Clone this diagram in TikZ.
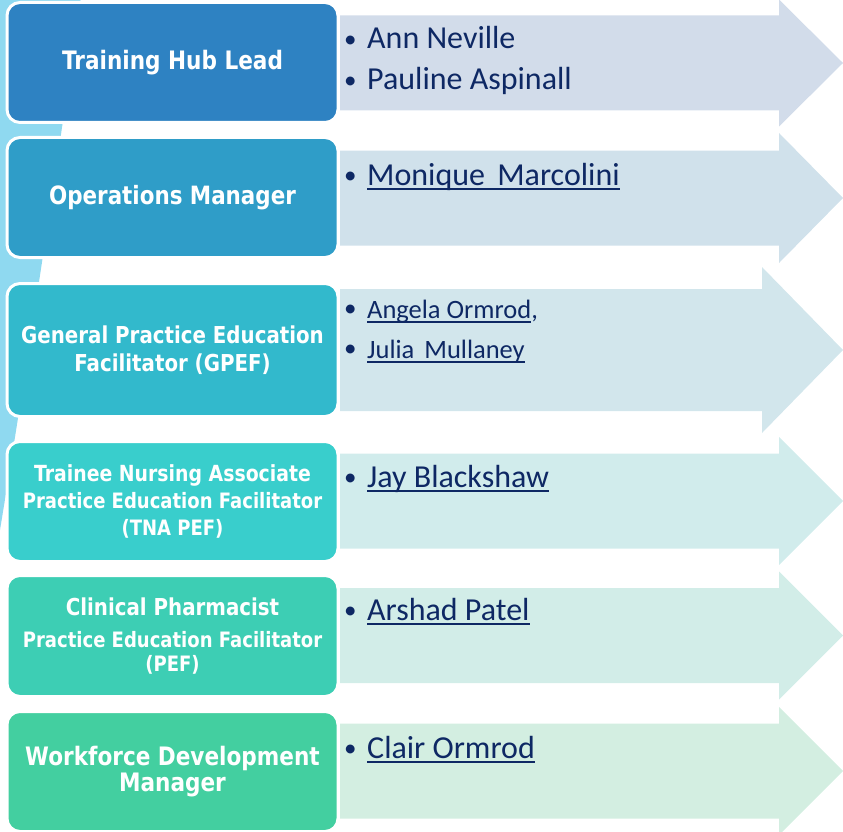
\documentclass[tikz,border=0pt]{standalone}
\usepackage{fontspec}
\setmainfont{Carlito}
\newfontfamily\boxfont[FakeStretch=0.85]{DejaVu Sans}
\usepackage{tikz}
\usetikzlibrary{positioning, calc}

\definecolor{hubA}{HTML}{2E82C2}
\definecolor{hubB}{HTML}{2F9DC8}
\definecolor{hubC}{HTML}{32B9CC}
\definecolor{hubD}{HTML}{39CECC}
\definecolor{hubE}{HTML}{3DCEB4}
\definecolor{hubF}{HTML}{43CFA0}
\definecolor{arrA}{HTML}{D2DCEA}
\definecolor{arrB}{HTML}{D0E1EB}
\definecolor{arrC}{HTML}{D2E6EC}
\definecolor{arrD}{HTML}{D1ECEC}
\definecolor{arrE}{HTML}{D2EDE8}
\definecolor{arrF}{HTML}{D3EEE1}
\definecolor{backarc}{HTML}{8FD9F0}
\definecolor{navy}{HTML}{0E2864}

\newcommand\linkname[1]{\setbox0=\hbox{#1}\rlap{\rule[-4.6pt]{\wd0}{1.8pt}}\box0}
\newcommand\bul{\makebox[23pt][l]{\raisebox{1.5pt}{\fontsize{25}{25}\selectfont\textbullet}}}

\tikzset{
    hubbox/.style = {rounded corners=13pt, draw=white, line width=3pt,
        text=white, minimum width=331pt, align=center, inner sep=0pt,
        outer sep=0pt},
    nameline/.style = {anchor=base west, inner sep=0pt, text=navy,
        font=\fontsize{32}{38}\selectfont},
    smallname/.style = {nameline, font=\fontsize{26.5}{32}\selectfont},
}

\begin{document}
\begin{tikzpicture}[x=1pt, y=-1pt]
            \useasboundingbox (0,0) rectangle (843,832);
            % light band behind the boxes
            \fill[backarc] (0,-10) -- (82,-10) .. controls (56,170) and (28,360) .. (0,530) -- cycle;
            % arrows
            \foreach \cy/\bh/\hh/\hx/\col in {63/47.5/63.5/779/arrA, 198/47.5/65/779/arrB,
                350/61/83/762/arrC, 501/47.5/64/779/arrD, 635.5/47.5/64/779/arrE, 771/47.5/64/779/arrF}
                \fill[\col] (340,\cy-\bh) -- (\hx,\cy-\bh) -- (\hx,\cy-\hh) -- (843,\cy)
                    -- (\hx,\cy+\hh) -- (\hx,\cy+\bh) -- (340,\cy+\bh) -- cycle;
            % role boxes
            \node (lead) [hubbox, fill=hubA, minimum height=120pt,
                font=\boxfont\bfseries\fontsize{25.4}{30}\selectfont] at (172.5,62.5) {Training Hub Lead};
            \node (ops) [hubbox, fill=hubB, minimum height=120pt,
                font=\boxfont\bfseries\fontsize{25.2}{30}\selectfont] at (172.5,197.5) {Operations Manager};
            \node (gpef) [hubbox, fill=hubC, minimum height=133pt,
                font=\boxfont\bfseries\fontsize{23.3}{28}\selectfont] at (172.5,350)
                {General Practice Education\\Facilitator (GPEF)};
            \node (tna) [hubbox, fill=hubD, minimum height=120pt,
                font=\boxfont\bfseries\fontsize{21.2}{27}\selectfont] at (172.5,501.5)
                {{\fontsize{22.2}{27}\selectfont Trainee Nursing Associate}\\Practice Education Facilitator\\(TNA PEF)};
            \node (pharm) [hubbox, fill=hubE, minimum height=121pt,
                font=\boxfont\bfseries\fontsize{21.2}{27}\selectfont] at (172.5,636)
                {{\fontsize{23.3}{27}\selectfont Clinical Pharmacist}\\[5pt]Practice Education Facilitator\\[-3pt](PEF)};
            \node (wfd) [hubbox, fill=hubF, minimum height=120pt,
                font=\boxfont\bfseries\fontsize{25.4}{26}\selectfont] at (172.5,771.5)
                {Workforce Development\\Manager};
            % names
            \node (ann) [nameline] at (344,49) {\bul Ann Neville};
            \node (pauline) [nameline] at (344,90) {\bul Pauline Aspinall};
            \node (monique) [nameline] at (344,185) {\bul\linkname{Monique\hspace{5pt} Marcolini}};
            \node (angela) [smallname] at (344,318) {\bul\linkname{Angela Ormrod},};
            \node (julia) [smallname] at (344,358) {\bul\linkname{Julia\hspace{4pt} Mullaney}};
            \node (jay) [nameline] at (344,487) {\bul\linkname{Jay Blackshaw}};
            \node (arshad) [nameline] at (344,620) {\bul\linkname{Arshad Patel}};
            \node (clair) [nameline] at (344,758) {\bul\linkname{Clair Ormrod}};
\end{tikzpicture}
\end{document}
